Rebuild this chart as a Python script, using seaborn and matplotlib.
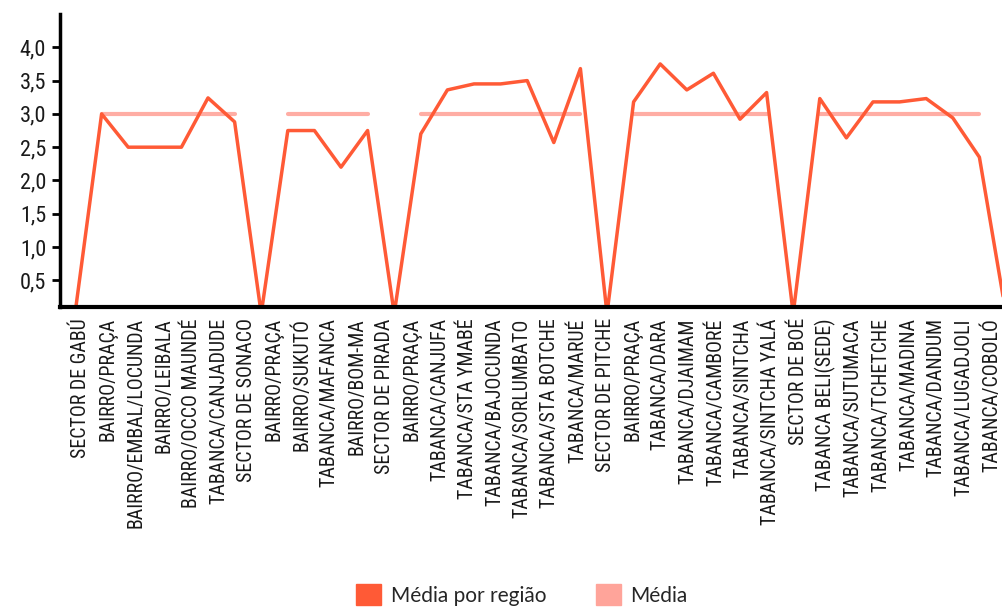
import numpy as np
import pandas as pd
import seaborn as sns
import matplotlib
matplotlib.use('Agg')
import matplotlib.pyplot as plt
import matplotlib.font_manager as fm
from matplotlib.patches import Patch

# categorias do eixo x
categorias = ['SECTOR DE GABÚ', 'BAIRRO/PRAÇA', 'BAIRRO/EMBAL/LOCUNDA', 'BAIRRO/LEIBALA',
              'BAIRRO/OCCO MAUNDÉ', 'TABANCA/CANJADUDE', 'SECTOR DE SONACO', 'BAIRRO/PRAÇA',
              'BAIRRO/SUKUTÓ', 'TABANCA/MAFANCA', 'BAIRRO/BOM-MA', 'SECTOR DE PIRADA',
              'BAIRRO/PRAÇA', 'TABANCA/CANJUFA', 'TABANCA/STA YMABÉ', 'TABANCA/BAJOCUNDA',
              'TABANCA/SORLUMBATO', 'TABANCA/STA BOTCHE', 'TABANCA/MARUÉ', 'SECTOR DE PITCHE',
              'BAIRRO/PRAÇA', 'TABANCA/DARA', 'TABANCA/DJAIMAM', 'TABANCA/CAMBORÉ',
              'TABANCA/SINTCHA', 'TABANCA/SINTCHA YALÁ', 'SECTOR DE BOÉ', 'TABANCA BELI(SEDE)',
              'TABANCA/SUTUMACA', 'TABANCA/TCHETCHE', 'TABANCA/MADINA', 'TABANCA/DANDUM',
              'TABANCA/LUGADJOLI', 'TABANCA/COBOLÓ']

# media por regiao (serie da linha principal)
media_regiao = [0, 3.0, 2.5, 2.5, 2.5, 3.24, 2.88, 0,
                2.75, 2.75, 2.2, 2.75, 0,
                2.7, 3.36, 3.45, 3.45, 3.5, 2.57, 3.68, 0,
                3.18, 3.75, 3.36, 3.61, 2.92, 3.32, 0,
                3.23, 2.64, 3.18, 3.18, 3.23, 2.94, 2.35, 0]

# media geral (so nos trechos de cada sector)
media = [np.nan, 3, 3, 3, 3, 3, 3, np.nan,
         3, 3, 3, 3, np.nan,
         3, 3, 3, 3, 3, 3, 3, np.nan,
         3, 3, 3, 3, 3, 3, np.nan,
         3, 3, 3, 3, 3, 3, 3, np.nan]

cor_linha = '#FF5A36'
cor_media = '#FFA49A'

# fonte condensada para os eixos, se existir
nomes = {f.name for f in fm.fontManager.ttflist}
fonte_eixo = 'DejaVu Sans'
for n in ['Roboto Condensed', 'Liberation Sans Narrow', 'Open Sans Condensed', 'Noto Sans Condensed']:
    if n in nomes:
        fonte_eixo = n
        break

sns.set_style('white')
plt.rcParams['font.family'] = ['Lato', 'DejaVu Sans']

df = pd.DataFrame({'pos': np.arange(len(media_regiao)), 'valor': media_regiao, 'media': media})
df['grupo'] = df['media'].isna().cumsum()

fig = plt.figure(figsize=(10.02, 6.08), dpi=100)
ax = fig.add_axes([0.06, 0.495, 0.94, 0.482])

sns.lineplot(data=df, x='pos', y='media', units='grupo', estimator=None,
             color=cor_media, linewidth=3, alpha=0.9, ax=ax)
sns.lineplot(data=df, x='pos', y='valor', color=cor_linha, linewidth=2.5, ax=ax)

ax.set_xlim(-0.56, 34.85)
ax.set_ylim(0.1, 4.5)
ax.set_xlabel('')
ax.set_ylabel('')

yt = np.arange(0.5, 4.01, 0.5)
ax.set_yticks(yt)
ax.set_yticklabels([f'{v:.1f}'.replace('.', ',') for v in yt],
                   fontfamily=fonte_eixo, fontstretch='condensed', fontsize=16, color='#1a1a1a')
ax.tick_params(axis='y', direction='out', length=6, width=2, color='black', pad=4, left=True)

ax.set_xticks(np.linspace(0.22, 34.45, len(categorias)))
ax.set_xticklabels(categorias, rotation=90, fontfamily=fonte_eixo, fontstretch='condensed',
                   fontsize=14.3, color='#1a1a1a', va='top', ha='center')
ax.tick_params(axis='x', length=0, pad=8)

sns.despine(ax=ax)
ax.spines['left'].set_linewidth(2.5)
ax.spines['bottom'].set_linewidth(3)
ax.spines['left'].set_color('black')
ax.spines['bottom'].set_color('black')

handles = [Patch(color=cor_linha, label='Média por região'),
           Patch(color=cor_media, label='Média')]
fig.legend(handles=handles, loc='lower center', bbox_to_anchor=(0.521, -0.027), ncol=2,
           frameon=False, fontsize=15, handlelength=1.2, handleheight=1.2,
           handletextpad=0.45, columnspacing=2.4)

fig.savefig('out.png', dpi=100)
